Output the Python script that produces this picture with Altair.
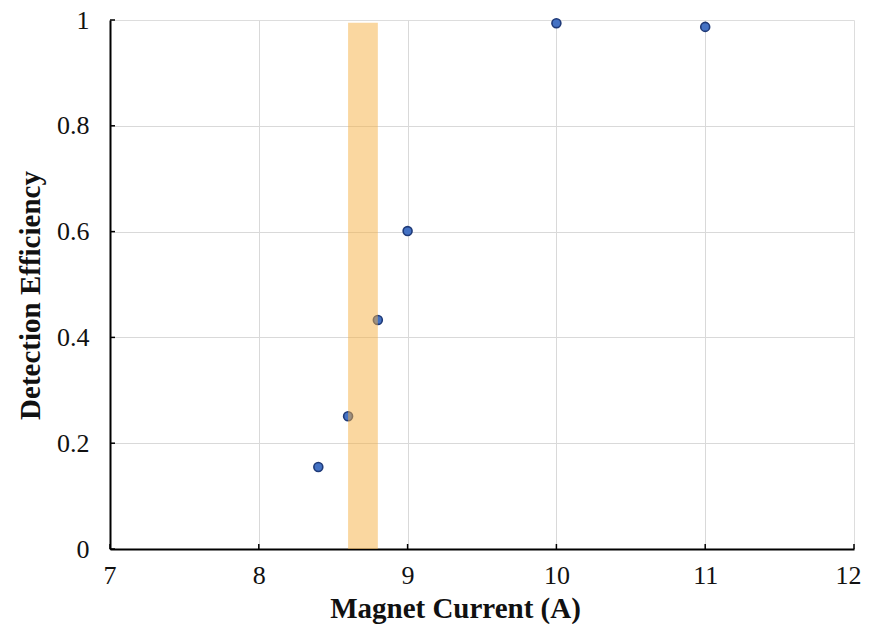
import altair as alt
import pandas as pd

current = [8.4, 8.6, 8.8, 9.0, 10.0, 11.0]
efficiency = [0.155, 0.251, 0.433, 0.601, 0.994, 0.987]
band_start = [8.6]
band_end = [8.8]
band_top = [0.995]
x_ticks = [7, 8, 9, 10, 11, 12]
y_ticks = [0, 0.2, 0.4, 0.6, 0.8, 1.0]

pts = pd.DataFrame({"current": current, "eff": efficiency})
band = pd.DataFrame({"x1": band_start, "x2": band_end, "y1": [0], "y2": band_top})
xt = pd.DataFrame({"v": x_ticks})
yt = pd.DataFrame({"v": y_ticks})

FONT = "Liberation Serif"
xscale = alt.Scale(domain=[7, 12], nice=False, zero=False)
yscale = alt.Scale(domain=[0, 1], nice=False)

xaxis = alt.Axis(values=x_ticks, title="Magnet Current  (A)", grid=True,
                 gridColor={"condition": {"test": "datum.value >= 12", "value": "transparent"}, "value": "#D9D9D9"},
                 ticks=False, domainColor="#000000", domainWidth=2, labelFont=FONT,
                 labelFontSize=26, labelColor="#111111", labelPadding=13, titleFont=FONT,
                 titleFontSize=29, titleFontWeight="bold", titleColor="#111111",
                 titleX=345, titleY=59, titleBaseline="middle", labelFlush=True,
                 labelFlushOffset=7, labelExpr="format(datum.value, 'd')")
yaxis = alt.Axis(values=y_ticks, title="Detection Efficiency", grid=True,
                 gridColor={"condition": {"test": "datum.value >= 1", "value": "transparent"}, "value": "#D9D9D9"},
                 ticks=False, domainColor="#000000", domainWidth=2, labelFont=FONT,
                 labelFontSize=26, labelColor="#111111", labelPadding=21, titleFont=FONT,
                 titleFontSize=29, titleFontWeight="bold", titleColor="#111111",
                 titleX=-80, titleY=275, titleBaseline="middle", titleAngle=-90,
                 labelExpr="datum.value == 0 ? '0' : datum.value == 1 ? '1' : format(datum.value, '.1f')",
                 labelFlush=False)

points = alt.Chart(pts).mark_point(filled=True, size=80, fill="#4472C4", stroke="#1F3A78",
                                   strokeWidth=1.6, opacity=1).encode(
    x=alt.X("current:Q", scale=xscale, axis=xaxis),
    y=alt.Y("eff:Q", scale=yscale, axis=yaxis),
)

rect = alt.Chart(band).mark_rect(color="#F5B041", opacity=0.5).encode(
    x=alt.X("x1:Q", scale=xscale),
    x2="x2:Q",
    y=alt.Y("y1:Q", scale=yscale),
    y2="y2:Q",
)

xtick_marks = alt.Chart(xt).mark_rule(color="#000000", strokeWidth=1.5).encode(
    x=alt.X("v:Q", scale=xscale),
    y=alt.value(529),
    y2=alt.value(524),
)
ytick_marks = alt.Chart(yt).mark_rule(color="#000000", strokeWidth=1.5).encode(
    y=alt.Y("v:Q", scale=yscale),
    x=alt.value(0),
    x2=alt.value(5),
)

chart = alt.layer(points, rect, xtick_marks, ytick_marks).properties(
    width=744, height=529,
    autosize=alt.AutoSizeParams(type="none"),
    padding={"left": 102, "top": 12, "right": 7, "bottom": 75},
).configure_view(stroke="#2E4A82", strokeWidth=2).configure(background="white")

chart.save("out.html", embed_options={"renderer": "svg", "actions": False})
